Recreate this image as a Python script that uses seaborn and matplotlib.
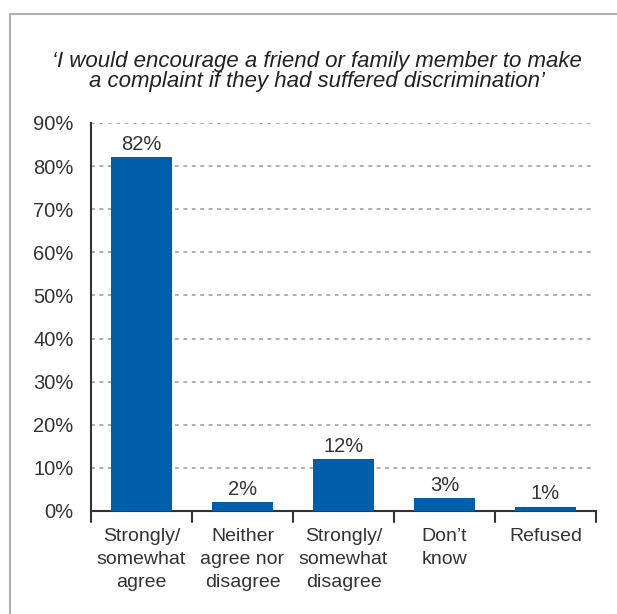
import matplotlib
matplotlib.use("Agg")
import matplotlib.pyplot as plt
from matplotlib.lines import Line2D
import seaborn as sns
import pandas as pd

categories = ["Strongly/\nsomewhat\nagree", "Neither\nagree nor\ndisagree",
              "Strongly/\nsomewhat\ndisagree", "Don\u2019t\nknow", "Refused"]
values = [82, 2, 12, 3, 1]
y_ticks = [0, 10, 20, 30, 40, 50, 60, 70, 80, 90]
y_tick_labels = [f"{t}%" for t in y_ticks]
subtitle = ("\u2018I would encourage a friend or family member to make\n"
            "a complaint if they had suffered discrimination\u2019")

BAR = "#005fab"
TEXT = "#333333"

sns.set_theme(style="white")
plt.rcParams["font.family"] = ["Liberation Sans", "DejaVu Sans"]

df = pd.DataFrame({"category": categories, "value": values})

fig = plt.figure(figsize=(6.17, 6.14), dpi=100)
ax = fig.add_axes([0.1475, 0.1678, 0.8185, 0.632])

sns.barplot(data=df, x="category", y="value", color=BAR, saturation=1,
            width=0.6, ax=ax, zorder=3, linewidth=0)

ax.set_ylim(0, 90)
ax.set_xlim(-0.5, len(categories) - 0.5)
ax.set_yticks(y_ticks)
ax.set_yticklabels(y_tick_labels, fontsize=14.5, color=TEXT)
ax.set_xlabel("")
ax.set_ylabel("")

# dashed gridlines, stopping a little short of the right end
for t in y_ticks[1:]:
    ax.plot([-0.5, len(categories) - 0.53], [t, t], ls=(0, (2.5, 3)),
            color="#9a9a9a", lw=1.1, zorder=1)

# x ticks sit on category boundaries, labels centered under bars
ax.set_xticks(range(len(categories)))
ax.set_xticklabels(categories, fontsize=14, color=TEXT, linespacing=1.47)
ax.tick_params(axis="x", length=0, pad=12)
for b in range(len(categories) + 1):
    ax.plot([b - 0.5, b - 0.5], [0, -2.5], color=TEXT, lw=1.5,
            clip_on=False, zorder=4)
ax.tick_params(axis="y", length=6, width=1.5, color=TEXT, direction="out", pad=6.5)

for s in ["top", "right"]:
    ax.spines[s].set_visible(False)
for s in ["left", "bottom"]:
    ax.spines[s].set_color(TEXT)
    ax.spines[s].set_linewidth(1.5)

for i, v in enumerate(values):
    ax.annotate(f"{v}%", (i, v), xytext=(0, 2.5), textcoords="offset points",
                ha="center", va="bottom", fontsize=14.5, color=TEXT)

fig.text(0.513, 0.884, subtitle, ha="center", va="center", fontsize=16,
         style="italic", color="#222222", linespacing=0.95)

# panel frame
fig.add_artist(Line2D([10 / 617, 10 / 617], [0, 1 - 14 / 614],
                      transform=fig.transFigure, color="#b0b0b0", lw=1.5))
fig.add_artist(Line2D([10 / 617, 1], [1 - 14 / 614, 1 - 14 / 614],
                      transform=fig.transFigure, color="#b0b0b0", lw=1.5))

fig.savefig("out.png", dpi=100, facecolor="white")
